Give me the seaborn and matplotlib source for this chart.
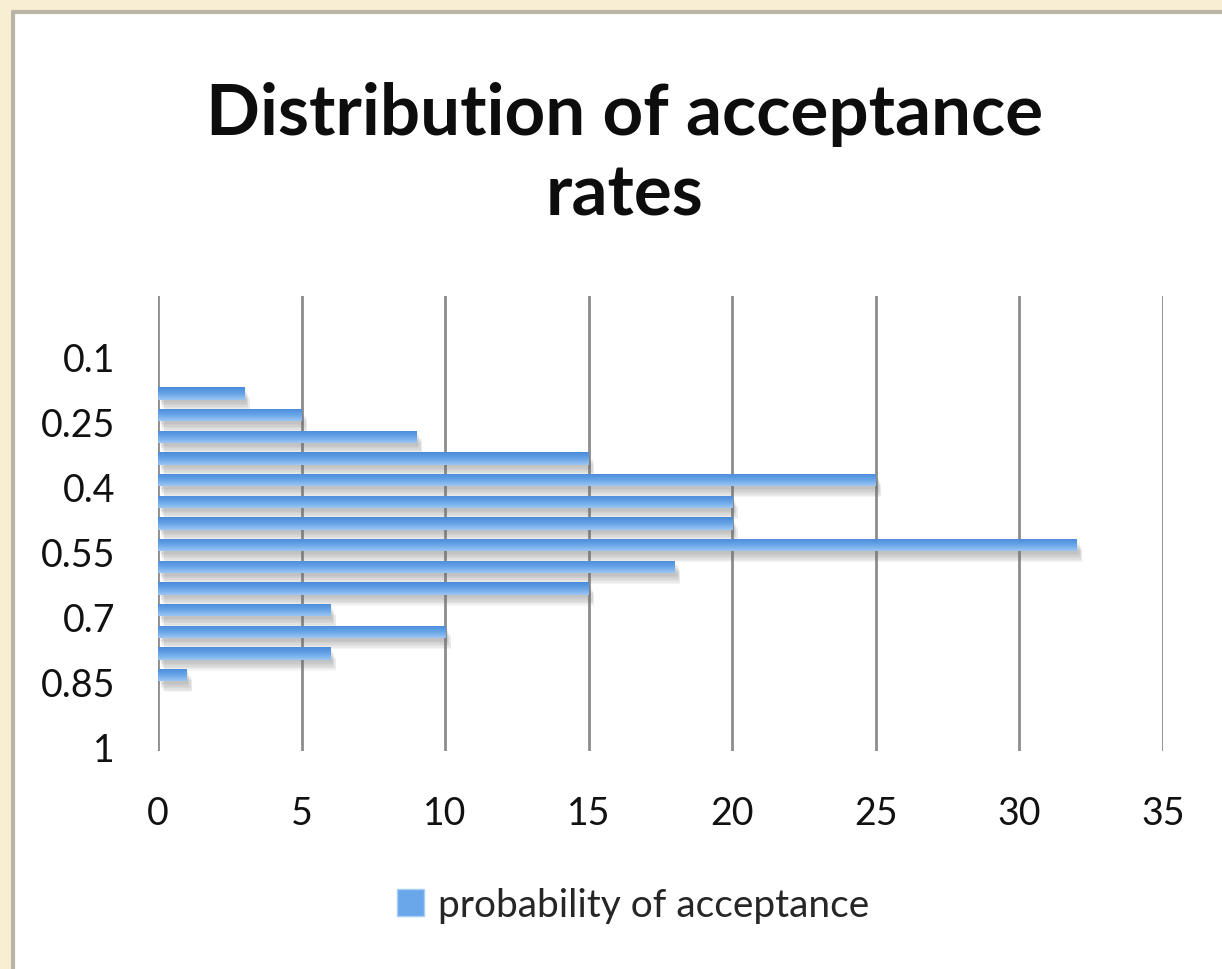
import numpy as np
import pandas as pd
import matplotlib
matplotlib.use("Agg")
import matplotlib.pyplot as plt
import matplotlib.patches as mpatches
import matplotlib.patheffects as pe
from matplotlib.colors import LinearSegmentedColormap
import seaborn as sns

# Acceptance-rate bins and how many fall in each
rates = ["0", "0.05", "0.1", "0.15", "0.2", "0.25", "0.3", "0.35", "0.4", "0.45",
         "0.5", "0.55", "0.6", "0.65", "0.7", "0.75", "0.8", "0.85", "0.9", "0.95", "1"]
counts = [0, 0, 0, 0, 3, 5, 9, 15, 25, 20, 20, 32, 18, 15, 6, 10, 6, 1, 0, 0, 0]
shown_labels = ["0.1", "0.25", "0.4", "0.55", "0.7", "0.85", "1"]
x_ticks = [0, 5, 10, 15, 20, 25, 30, 35]
series_name = "probability of acceptance"
title = "Distribution of acceptance\nrates"

df = pd.DataFrame({"rate": rates, "count": counts})

sns.set_theme(style="white")
plt.rcParams["font.family"] = ["Lato", "DejaVu Sans"]

W, H = 1222, 970
fig = plt.figure(figsize=(W / 100, H / 100), dpi=100)
fig.patch.set_facecolor("#f8eed3")

# White card with a grey rim on its left and top edges
card_l, card_t = 13 / W, 1 - 13 / H
fig.patches.append(mpatches.Rectangle((card_l, 0), 1 - card_l, card_t,
                                      transform=fig.transFigure, facecolor="white",
                                      edgecolor="none", zorder=-2))
fig.lines.append(plt.Line2D([card_l, card_l], [0, card_t], transform=fig.transFigure,
                            color="#b9b4a6", lw=3, zorder=-1))
fig.lines.append(plt.Line2D([card_l, 1], [card_t, card_t], transform=fig.transFigure,
                            color="#b9b4a6", lw=3, zorder=-1))

ax_l, ax_r = 158 / W, 1163 / W
ax_t, ax_b = 1 - 297 / H, 1 - 752 / H
ax = fig.add_axes([ax_l, ax_b, ax_r - ax_l, ax_t - ax_b])
ax.set_facecolor("none")

bar_color = "#5f9de4"
sns.barplot(data=df, x="count", y="rate", orient="h", order=rates, color=bar_color,
            width=0.56, saturation=1, ax=ax, zorder=3, edgecolor="none", linewidth=0)

# Soft (layered) drop shadow and a top-lit gradient on every bar
shadow = [pe.SimplePatchShadow(offset=(dx, -dy), shadow_rgbFace="#6e6e6e", alpha=0.07)
          for dx, dy in [(1, 2), (2, 3), (2, 4), (3, 5), (3, 6), (4, 7), (4, 8)]]
grad = LinearSegmentedColormap.from_list("barfill", ["#4a8ad8", "#66a3e8", "#9cc6f3"])
gimg = np.linspace(0, 1, 64).reshape(-1, 1)
for p in ax.patches:
    w = p.get_width()
    if w <= 0:
        p.set_visible(False)
        continue
    p.set_path_effects(shadow + [pe.Normal()])
    y0, h = p.get_y(), p.get_height()
    im = ax.imshow(gimg, cmap=grad, aspect="auto", origin="upper",
                   extent=[0, w, y0 + h, y0], zorder=4, interpolation="bicubic")
    im.set_clip_path(p)

ax.set_xlim(0, 35)
ax.set_ylim(len(rates) - 0.5, -0.5)
ax.set_xticks(x_ticks)
ax.set_xticklabels([str(v) for v in x_ticks])
# category labels sit a little below their bar centres
ax.set_yticks([rates.index(s) + 0.3 for s in shown_labels])
ax.set_yticklabels(shown_labels)

ax.xaxis.grid(True, color="#8c8c8c", lw=2.0, zorder=1)
ax.yaxis.grid(False)
ax.set_axisbelow(True)
for s in ax.spines.values():
    s.set_visible(False)
ax.tick_params(axis="both", length=0, labelsize=27, colors="#111111")
ax.tick_params(axis="y", pad=31)
ax.tick_params(axis="x", pad=32)
ax.set_xlabel("")
ax.set_ylabel("")

fig.text(0.511, 1 - 155 / H, title, ha="center", va="center", fontsize=51,
         fontweight="bold", color="#0d0d0d", linespacing=1.3)

handle = mpatches.Patch(facecolor="#6aa6ea", edgecolor="#a8cdf5", label=series_name)
fig.legend(handles=[handle], loc="center", bbox_to_anchor=(0.518, 1 - 906 / H),
           frameon=False, fontsize=28, handlelength=0.7, handleheight=0.7,
           handletextpad=0.35)

fig.savefig("out.png", dpi=100, facecolor=fig.get_facecolor())
